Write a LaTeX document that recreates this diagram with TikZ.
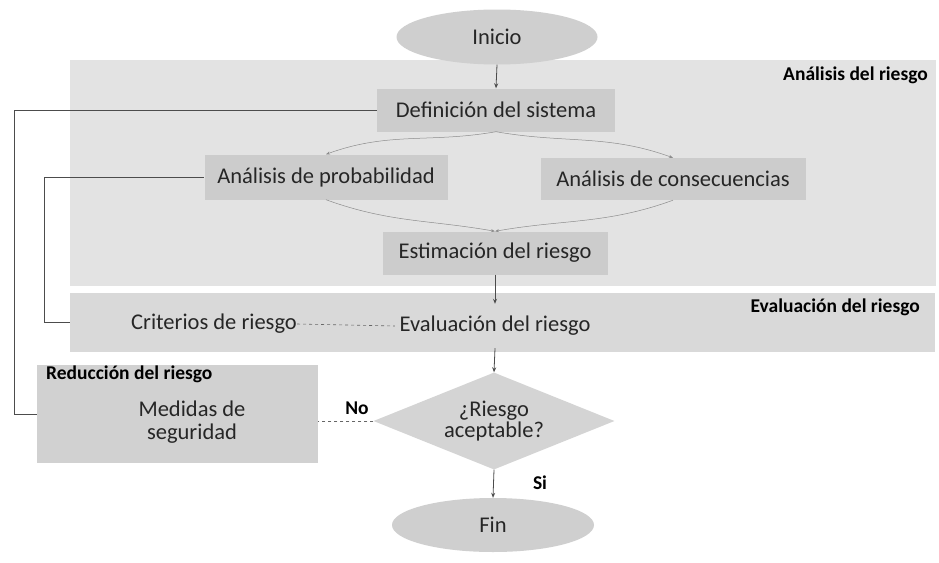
\documentclass[tikz,border=0pt]{standalone}
\usepackage{fontspec}
\setmainfont{Carlito}
\usetikzlibrary{shapes.geometric,arrows.meta,positioning}
\tikzset{
  panelA/.style={fill=gray!22, draw=none},
  panelE/.style={fill=gray!30, draw=none},
  panelR/.style={fill=gray!36, draw=none},
  stepbox/.style={fill=gray!40, draw=none, inner sep=0pt, text=black!85,
    font=\fontsize{22.5}{23}\selectfont},
  plain/.style={inner sep=0pt, text=black!85, font=\fontsize{22.5}{23}\selectfont},
  term/.style={ellipse, fill=gray!38, draw=none, inner sep=0pt, text=black!85,
    font=\fontsize{22.5}{23}\selectfont},
  decision/.style={diamond, aspect=2.5, fill=gray!34, draw=none, inner sep=0pt, text=black!85,
    align=center, font=\fontsize{22.5}{21}\selectfont},
  tag/.style={inner sep=0pt, text=black, font=\fontsize{19.5}{21}\selectfont\bfseries},
  flow/.style={draw=black!70, line width=0.8pt, -{Stealth[length=5pt,width=4pt]}},
  soft/.style={draw=black!45, line width=0.5pt, -{Stealth[length=4pt,width=3pt]}},
  fb/.style={draw=black!70, line width=0.8pt},
  dashline/.style={draw=black!60, line width=0.6pt, dashed}
}
\begin{document}
\begin{tikzpicture}[x=1pt,y=-1pt]
\useasboundingbox[fill=white] (0,0) rectangle (939,562);
% panels
\path[panelA] (70,60) rectangle (936,286);
\path[panelE] (70,293) rectangle (935,352);
\node[panelR, minimum width=281pt, minimum height=98pt, inner sep=0pt] (red) at (177.5,414) {};
\node[minimum width=865pt, minimum height=59pt, inner sep=0pt] (pE) at (502.5,322.5) {};
% labels of panels
\node[tag, anchor=east] (tA) at (928,75) {Análisis del riesgo};
\node[tag, anchor=east] (tE) at (920,307) {Evaluación del riesgo};
\node[tag, anchor=west] (tR) at (46,374) {Reducción del riesgo};
% nodes
\node[term, minimum width=201pt, minimum height=55pt] (ini) at (497,37) {Inicio};
\node[stepbox, minimum width=238pt, minimum height=43pt] (def) at (496,110) {Definición del sistema};
\node[stepbox, minimum width=243pt, minimum height=45pt] (prob) at (326,177) {Análisis de probabilidad};
\node[stepbox, minimum width=265pt, minimum height=42pt] (cons) at (673,179) {Análisis de consecuencias};
\node[stepbox, minimum width=225pt, minimum height=43pt] (est) at (495,253) {Estimación del riesgo};
\node[plain, minimum height=40pt] (crit) at (214,324) {Criterios de riesgo};
\node[plain, minimum width=200pt, minimum height=44pt] (eva) at (495,326) {Evaluación del riesgo};
\node[decision, minimum width=241pt, minimum height=97pt] (dec) at (494,421) {¿Riesgo\\aceptable?};
\node[plain, align=center] (med) at (192,422) {Medidas de\\seguridad};
\node[term, minimum width=202pt, minimum height=54pt] (fin) at (493,525) {Fin};
% connectors
\draw[flow] (ini.south) -- (def.north);
\draw[soft] (def.south) to[out=190, in=20] (prob.north);
\draw[soft] (def.south) to[out=-10, in=160] (cons.north);
\draw[soft] (prob.south) to[out=-20, in=170] (est.north);
\draw[soft] (cons.south) to[out=200, in=10] (est.north);
\draw[flow] (est.south) -- (eva.north);
\draw[dashline] (crit.east) -- (eva.west);
\draw[flow] (eva.south) -- (dec.north);
\draw[flow] (dec.south) -- (fin.north);
\node[tag] (si) at (540,483) {Si};
\draw[dashline] (dec.west) -- (dec.west -| red.east);
\node[tag] (no) at (357,408) {No};
\draw[fb] (red.west) -- ++(-22,0) |- (def.west);
\draw[fb] (pE.west) -- ++(-25,0) |- (prob.west);
\end{tikzpicture}
\end{document}
